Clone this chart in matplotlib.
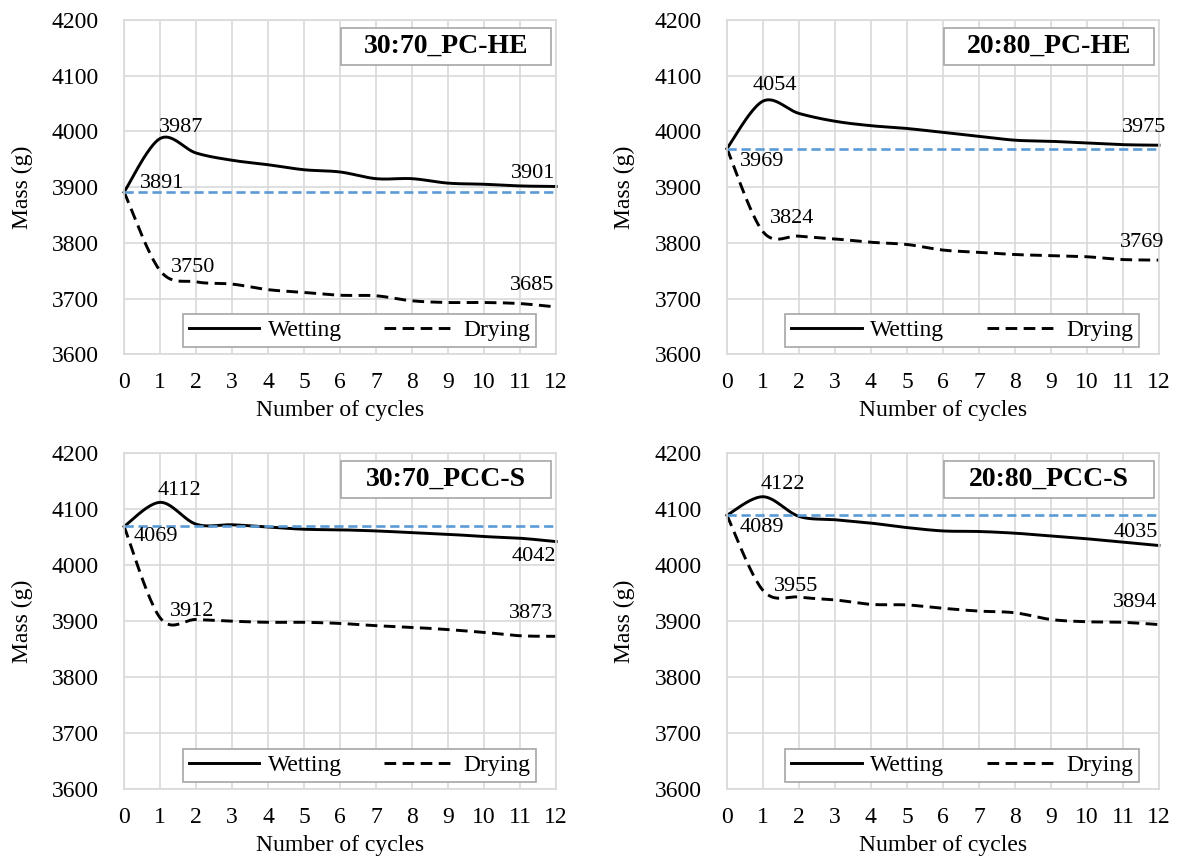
import numpy as np
import matplotlib.pyplot as plt
from matplotlib.lines import Line2D
from matplotlib.patches import Rectangle

plt.rcParams['font.family'] = ['Liberation Serif', 'DejaVu Serif']

cycles = list(range(13))

titles = ['30:70_PC-HE', '20:80_PC-HE', '30:70_PCC-S', '20:80_PCC-S']
initial = [3891, 3969, 4069, 4089]

wetting_1 = [3891, 3987, 3961, 3948, 3940, 3931, 3927, 3915, 3915, 3907, 3905, 3902, 3901]
drying_1 = [3891, 3750, 3730, 3726, 3716, 3711, 3706, 3705, 3696, 3693, 3693, 3691, 3685]
wetting_2 = [3969, 4054, 4032, 4018, 4010, 4005, 3998, 3991, 3984, 3982, 3979, 3976, 3975]
drying_2 = [3969, 3820, 3812, 3807, 3801, 3797, 3787, 3783, 3779, 3777, 3775, 3770, 3769]
wetting_3 = [4069, 4112, 4073, 4072, 4068, 4064, 4063, 4061, 4058, 4055, 4051, 4048, 4042]
drying_3 = [4069, 3906, 3903, 3900, 3898, 3898, 3896, 3892, 3889, 3885, 3880, 3874, 3873]
wetting_4 = [4089, 4122, 4087, 4081, 4075, 4067, 4061, 4060, 4057, 4052, 4047, 4041, 4035]
drying_4 = [4089, 3955, 3943, 3938, 3930, 3929, 3923, 3918, 3915, 3903, 3899, 3898, 3894]

wetting = [wetting_1, wetting_2, wetting_3, wetting_4]
drying = [drying_1, drying_2, drying_3, drying_4]

# label text, x, y (data coords, text centre)
labels = [
    [('3987', 1.57, 4007), ('3891', 1.05, 3907), ('3750', 1.91, 3755),
     ('3685', 11.32, 3723), ('3901', 11.37, 3924)],
    [('4054', 1.34, 4082), ('3969', 0.97, 3946), ('3824', 1.82, 3843),
     ('3769', 11.52, 3800), ('3975', 11.59, 4006)],
    [('4112', 1.55, 4134), ('4069', 0.89, 4051), ('3912', 1.90, 3918),
     ('3873', 11.31, 3914), ('4042', 11.37, 4015)],
    [('4122', 1.55, 4143), ('4089', 0.97, 4067), ('3955', 1.92, 3962),
     ('3894', 11.34, 3934), ('4035', 11.37, 4059)],
]


def smooth(x, y, n=25):
    # excel style smoothed line (catmull-rom as bezier)
    pts = np.column_stack([x, y]).astype(float)
    out = []
    for i in range(len(pts) - 1):
        p0 = pts[i - 1] if i > 0 else pts[i]
        p1 = pts[i]
        p2 = pts[i + 1]
        p3 = pts[i + 2] if i + 2 < len(pts) else pts[i + 1]
        c1 = p1 + (p2 - p0) / 6
        c2 = p2 - (p3 - p1) / 6
        t = np.linspace(0, 1, n)[:, None]
        seg = (1 - t)**3 * p1 + 3 * (1 - t)**2 * t * c1 + 3 * (1 - t) * t**2 * c2 + t**3 * p2
        out.append(seg if i == 0 else seg[1:])
    s = np.vstack(out)
    return s[:, 0], s[:, 1]


fig = plt.figure(figsize=(11.82, 8.58), dpi=100)
positions = [
    [0.105, 0.587, 0.3655, 0.390],
    [0.615, 0.587, 0.3655, 0.390],
    [0.105, 0.080, 0.3655, 0.392],
    [0.615, 0.080, 0.3655, 0.392],
]
grid_col = '#d9d9d9'

for k in range(4):
    ax = fig.add_axes(positions[k])
    ax.set_xlim(0, 12)
    ax.set_ylim(3600, 4200)
    ax.set_xticks(cycles)
    ax.set_yticks(np.arange(3600, 4201, 100))
    ax.grid(True, color=grid_col, linewidth=1.2)
    ax.set_axisbelow(True)
    for sp in ax.spines.values():
        sp.set_color(grid_col)
        sp.set_linewidth(1.2)
    ax.tick_params(length=0, labelsize=17)
    ax.tick_params(axis='x', pad=13)
    ax.tick_params(axis='y', pad=18)

    xs, ys = smooth(cycles, wetting[k])
    ax.plot(xs, ys, color='black', lw=2.1, clip_on=False)
    xs, ys = smooth(cycles, drying[k])
    ax.plot(xs, ys, color='black', lw=2.1, dashes=(4, 2.2), clip_on=False)
    ax.plot([0, 12], [initial[k], initial[k]], color='#5b9bd5', lw=1.9, dashes=(3.5, 1.8))

    for txt, lx, ly in labels[k]:
        ax.text(lx, ly, txt, fontsize=16, ha='center', va='center')

    ax.set_ylabel('Mass (g)', fontsize=17)
    ax.yaxis.set_label_coords(-0.212, 0.5)
    ax.set_xlabel('Number of cycles', fontsize=17)
    ax.xaxis.set_label_coords(0.5, -0.135)

    ax.add_patch(Rectangle((0.502, 0.866), 0.486, 0.11, transform=ax.transAxes,
                           facecolor='white', edgecolor='#a6a6a6', lw=1.2, zorder=5))
    ax.text(0.745, 0.921, titles[k], transform=ax.transAxes, fontsize=20,
            fontweight='bold', ha='center', va='center', zorder=6)

    handles = [Line2D([], [], color='black', lw=2.1),
               Line2D([], [], color='black', lw=2.1, dashes=(4, 2.2))]
    leg = ax.legend(handles, ['Wetting', 'Drying'], ncol=2, fontsize=17,
                    loc='lower right', bbox_to_anchor=(0.954, 0.021),
                    fancybox=False, framealpha=1, edgecolor='#a6a6a6',
                    handlelength=3.0, handletextpad=0.35, borderpad=0.25,
                    columnspacing=1.8, borderaxespad=0)
    leg.get_frame().set_linewidth(1.2)

fig.savefig('out.png', dpi=100)
